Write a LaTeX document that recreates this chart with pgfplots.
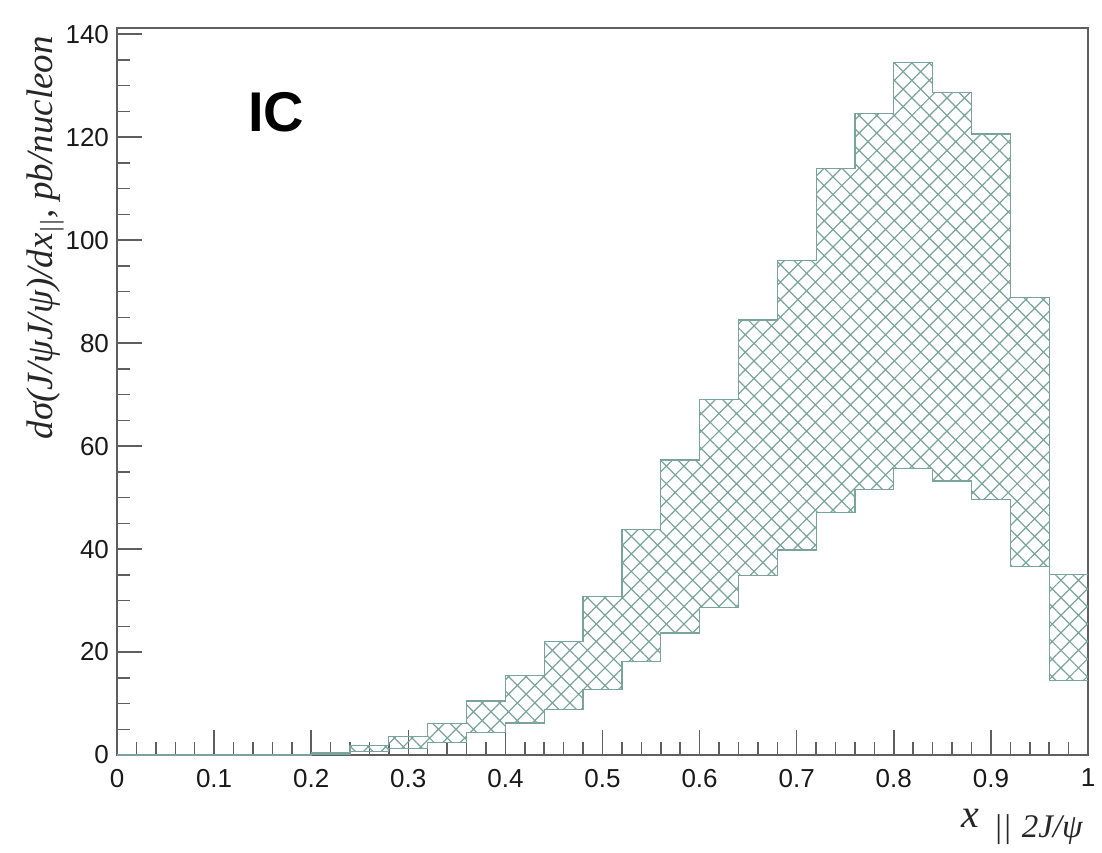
\documentclass[border=0pt]{standalone}
\usepackage{fontspec}
\setmainfont{Liberation Serif}
\setsansfont{Liberation Sans}
\usepackage{pgfplots}
\usepackage{pgfplotstable}
\pgfplotsset{compat=1.18}
\usepgfplotslibrary{fillbetween}
\usetikzlibrary{patterns.meta}
\definecolor{hatchcol}{RGB}{122,164,154}
\definecolor{framecol}{RGB}{95,95,95}

\pgfplotstableread{
x lo hi
0.00 0 0
0.04 0 0
0.08 0 0
0.12 0 0
0.16 0 0.1
0.20 0.1 0.4
0.24 0.7 1.9
0.28 1.3 3.6
0.32 2.4 6.1
0.36 4.3 10.5
0.40 6.2 15.5
0.44 8.8 22.0
0.48 12.8 30.8
0.52 18.1 43.8
0.56 23.7 57.3
0.60 28.7 69.1
0.64 34.8 84.5
0.68 39.8 96.1
0.72 47.1 113.9
0.76 51.5 124.6
0.80 55.7 134.5
0.84 53.2 128.7
0.88 49.7 120.6
0.92 36.6 88.8
0.96 14.4 35.0
1.00 14.4 35.0
}\banddata

\begin{document}
\begin{tikzpicture}
\begin{axis}[
  name=ax,
  scale only axis,
  width=485.5pt, height=363.5pt,
  xmin=0, xmax=1, ymin=0, ymax=141.2,
  xtick={0,0.1,0.2,0.3,0.4,0.5,0.6,0.7,0.8,0.9,1},
  ytick={0,20,40,60,80,100,120,140},
  minor x tick num=4,
  minor y tick num=3,
  tick align=inside,
  xtick pos=left, ytick pos=left,
  major tick length=12.5pt,
  minor tick length=6.5pt,
  every tick/.style={draw=framecol, line width=0.75pt},
  axis line style={draw=framecol, line width=0.8pt},
  /pgf/number format/assume math mode=true,
  tick label style={font=\sffamily\fontsize{13}{13}\selectfont, text=black!90},
  xticklabel style={yshift=-3.5pt},
  yticklabel style={xshift=-0.5pt},
  clip=false,
]
\addplot[name path=hi, const plot, draw=hatchcol, line width=0.6pt] table[x=x, y=hi] {\banddata};
\addplot[name path=lo, const plot, draw=hatchcol, line width=0.6pt] table[x=x, y=lo] {\banddata};
\addplot[draw=none, pattern={Hatch[angle=45, distance=6.2pt, line width=0.6pt]}, pattern color=hatchcol] fill between[of=hi and lo];
\node[font=\sffamily\bfseries\fontsize{28}{28}\selectfont] at (axis cs:0.164,124.9) {IC};
\coordinate (sw) at (rel axis cs:0,0);
\end{axis}
\node[rotate=90, anchor=east, font=\itshape\fontsize{18.5}{18.5}\selectfont, text=black!85]
  at ([shift={(-36pt,363pt)}]sw)
  {dσ(J/ψJ/ψ)/dx\raisebox{-0.35ex}{\fontsize{13}{13}\selectfont ||}, pb/nucleon};
\node[anchor=east, font=\itshape\fontsize{20}{20}\selectfont, text=black!85, inner sep=0pt]
  at ([shift={(483pt,-36pt)}]sw)
  {x\hspace{7pt}\raisebox{-0.55ex}{\fontsize{16.5}{16.5}\selectfont ||\hspace{5pt}2J/ψ}};
\pgfresetboundingbox
\path[use as bounding box] ([shift={(-58.5pt,-48.5pt)}]sw) rectangle ++(551pt,426pt);
\end{tikzpicture}
\end{document}
